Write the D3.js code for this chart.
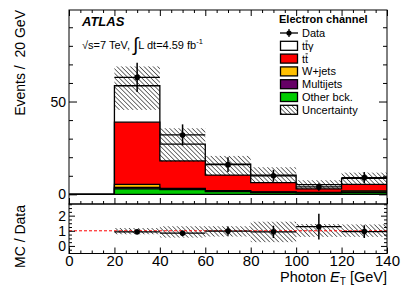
<!DOCTYPE html>
<html>
<head>
<meta charset="utf-8">
<script src="https://cdn.jsdelivr.net/npm/d3@7"></script>
<style>
  body { margin: 0; background: #fff; }
  svg text { font-family: "Liberation Sans", Arial, Helvetica, sans-serif; fill: #000; }
</style>
</head>
<body>
<div id="chart"></div>
<script>
// histogram bins (GeV), 20 GeV wide
const binLow = [20, 40, 60, 80, 100, 120];
const binWidth = 20;

// data
const dataVals = [63, 32, 16, 10, 4, 9];
const dataErr = [7.9, 5.7, 4.0, 3.2, 2.0, 3.0];

// stacked MC (bottom -> top)
const otherBkg = [3.0, 2.5, 1.5, 1.0, 0.8, 1.0];
const multijets = [0.8, 0.3, 0.2, 0.1, 0.1, 0.3];
const wjets = [1.6, 0.4, 0.3, 0.2, 0.1, 0.6];
const ttbar = [33.5, 14.8, 8.4, 5.0, 2.0, 3.5];
const ttgamma = [19.6, 9.0, 5.8, 4.1, 2.2, 3.2];

// uncertainty band on total MC
const uncLow = [45.5, 17.6, 10.4, 6.3, 2.9, 5.4];
const uncHigh = [68.9, 35.6, 20.7, 14.6, 7.6, 11.7];

// ratio pad
const ratioVals = [0.93, 0.84, 0.98, 0.93, 1.27, 0.95];
const ratioErr = [0.13, 0.18, 0.3, 0.4, 0.85, 0.42];
const ratioBandLow = [0.77, 0.55, 0.62, 0.25, 0.6, 0.6];
const ratioBandHigh = [1.18, 1.3, 1.3, 1.6, 1.45, 1.42];

// legend entries: [label parts, bar over which part]
const legendLabels = [["Data"], ["t", "t", "\u03b3"], ["t", "t"], ["W+jets"], ["Multijets"], ["Other bck."], ["Uncertainty"]];
const legendColors = [null, "#ffffff", "#ff0000", "#ffc000", "#660066", "#00cc00", "hatch"];

function createChart() {
    const W = 407, H = 292;
    const left = 69, right = 387;
    const mainTop = 10, mainBottom = 204, ratioBottom = 253.5;

    const svg = d3.select("#chart")
        .append("svg")
        .attr("width", W)
        .attr("height", H);

    // hatch pattern (\\\\ style)
    const defs = svg.append("defs");
    defs.append("pattern")
        .attr("id", "hatch")
        .attr("patternUnits", "userSpaceOnUse")
        .attr("width", 3.2)
        .attr("height", 3.2)
        .attr("patternTransform", "rotate(-45)")
        .append("line")
        .attr("x1", 0).attr("y1", 0)
        .attr("x2", 0).attr("y2", 3.2)
        .attr("stroke", "#000")
        .attr("stroke-width", 1.1);
    defs.append("clipPath").attr("id", "clipMain")
        .append("rect").attr("x", left).attr("y", mainTop)
        .attr("width", right - left).attr("height", mainBottom - mainTop);
    defs.append("clipPath").attr("id", "clipRatio")
        .append("rect").attr("x", left).attr("y", mainBottom)
        .attr("width", right - left).attr("height", ratioBottom - mainBottom);

    // scales
    const x = d3.scaleLinear().domain([0, 140]).range([left, right]);
    const y = d3.scaleLinear().domain([-5.2, 99.3]).range([mainBottom, mainTop]);
    const yr = d3.scaleLinear().domain([-0.5, 2.77]).range([ratioBottom, mainBottom]);

    // stack
    const keys = ["other", "multi", "wjets", "tt", "ttg"];
    const colors = { other: "#00cc00", multi: "#660066", wjets: "#ffc000", tt: "#ff0000", ttg: "#ffffff" };
    const table = binLow.map((b, i) => ({
        x: b, other: otherBkg[i], multi: multijets[i], wjets: wjets[i], tt: ttbar[i], ttg: ttgamma[i]
    }));
    const series = d3.stack().keys(keys)(table);

    const main = svg.append("g").attr("clip-path", "url(#clipMain)");

    const area = d3.area()
        .curve(d3.curveStepAfter)
        .x(d => x(d.x))
        .y0(y(0))
        .y1(d => y(d.v));

    // draw top layer first, then the ones below
    series.slice().reverse().forEach(s => {
        const pts = [{ x: 0, v: 0 }].concat(s.map((d, i) => ({ x: binLow[i], v: d[1] })));
        pts.push({ x: binLow[binLow.length - 1] + binWidth, v: s[s.length - 1][1] });
        main.append("path")
            .attr("d", area(pts))
            .attr("fill", colors[s.key])
            .attr("stroke", "#000")
            .attr("stroke-width", 1.3);
    });

    // uncertainty band
    main.selectAll("rect.unc")
        .data(binLow)
        .join("rect")
        .attr("class", "unc")
        .attr("x", d => x(d))
        .attr("width", d => x(d + binWidth) - x(d))
        .attr("y", (d, i) => y(uncHigh[i]))
        .attr("height", (d, i) => y(uncLow[i]) - y(uncHigh[i]))
        .attr("fill", "url(#hatch)");

    // data points
    const pts = main.append("g");
    binLow.forEach((b, i) => {
        const cx = x(b + binWidth / 2);
        pts.append("line")
            .attr("x1", x(b)).attr("x2", x(b + binWidth))
            .attr("y1", y(dataVals[i])).attr("y2", y(dataVals[i]))
            .attr("stroke", "#000").attr("stroke-width", 1.3);
        pts.append("line")
            .attr("x1", cx).attr("x2", cx)
            .attr("y1", y(dataVals[i] + dataErr[i])).attr("y2", y(dataVals[i] - dataErr[i]))
            .attr("stroke", "#000").attr("stroke-width", 1.5);
        pts.append("circle")
            .attr("cx", cx).attr("cy", y(dataVals[i]))
            .attr("r", 2.8).attr("fill", "#000");
    });

    // ratio pad
    const ratio = svg.append("g").attr("clip-path", "url(#clipRatio)");
    ratio.selectAll("rect.rband")
        .data(binLow)
        .join("rect")
        .attr("class", "rband")
        .attr("x", d => x(d))
        .attr("width", d => x(d + binWidth) - x(d))
        .attr("y", (d, i) => yr(ratioBandHigh[i]))
        .attr("height", (d, i) => yr(ratioBandLow[i]) - yr(ratioBandHigh[i]))
        .attr("fill", "url(#hatch)");

    ratio.append("line")
        .attr("x1", x(0)).attr("x2", x(140))
        .attr("y1", yr(1)).attr("y2", yr(1))
        .attr("stroke", "#ff0000")
        .attr("stroke-width", 1)
        .attr("stroke-dasharray", "3,2");

    binLow.forEach((b, i) => {
        const cx = x(b + binWidth / 2);
        ratio.append("line")
            .attr("x1", x(b)).attr("x2", x(b + binWidth))
            .attr("y1", yr(ratioVals[i])).attr("y2", yr(ratioVals[i]))
            .attr("stroke", "#000").attr("stroke-width", 1.3);
        ratio.append("line")
            .attr("x1", cx).attr("x2", cx)
            .attr("y1", yr(ratioVals[i] + ratioErr[i])).attr("y2", yr(ratioVals[i] - ratioErr[i]))
            .attr("stroke", "#000").attr("stroke-width", 1.5);
        ratio.append("circle")
            .attr("cx", cx).attr("cy", yr(ratioVals[i]))
            .attr("r", 2.8).attr("fill", "#000");
    });

    // frames
    svg.append("rect")
        .attr("x", left).attr("y", mainTop)
        .attr("width", right - left).attr("height", mainBottom - mainTop)
        .attr("fill", "none").attr("stroke", "#000").attr("stroke-width", 1);
    svg.append("rect")
        .attr("x", left).attr("y", mainBottom)
        .attr("width", right - left).attr("height", ratioBottom - mainBottom)
        .attr("fill", "none").attr("stroke", "#000").attr("stroke-width", 1);

    // ticks
    const xMajor = d3.range(0, 141, 20);
    const xMinor = d3.range(0, 141, 5).filter(v => v % 20 !== 0);
    function tickGroup(axis, transform) {
        const g = svg.append("g").attr("transform", transform).call(axis);
        g.select(".domain").remove();
        g.selectAll("line").attr("stroke", "#000");
        return g;
    }
    // main pad x (bottom + top), no labels
    tickGroup(d3.axisBottom(x).tickValues(xMajor).tickSize(-6).tickFormat(""), `translate(0,${mainBottom})`);
    tickGroup(d3.axisBottom(x).tickValues(xMinor).tickSize(-3).tickFormat(""), `translate(0,${mainBottom})`);
    tickGroup(d3.axisTop(x).tickValues(xMajor).tickSize(-6).tickFormat(""), `translate(0,${mainTop})`);
    tickGroup(d3.axisTop(x).tickValues(xMinor).tickSize(-3).tickFormat(""), `translate(0,${mainTop})`);

    // main pad y
    const gy = tickGroup(d3.axisLeft(y).tickValues([0, 50]).tickSize(-8).tickPadding(3), `translate(${left},0)`);
    gy.selectAll("text").attr("font-size", 14).attr("font-family", null).attr("x", -3);
    tickGroup(d3.axisLeft(y).tickValues(d3.range(10, 100, 10).filter(v => v !== 50)).tickSize(-4).tickFormat(""), `translate(${left},0)`);
    tickGroup(d3.axisRight(y).tickValues([0, 50]).tickSize(-8).tickFormat(""), `translate(${right},0)`);
    tickGroup(d3.axisRight(y).tickValues(d3.range(10, 100, 10).filter(v => v !== 50)).tickSize(-4).tickFormat(""), `translate(${right},0)`);

    // ratio pad x with labels
    const gx = tickGroup(d3.axisBottom(x).tickValues(xMajor).tickSize(-6).tickPadding(1.5), `translate(0,${ratioBottom})`);
    gx.selectAll("text").attr("font-size", 15).attr("font-family", null);
    tickGroup(d3.axisBottom(x).tickValues(xMinor).tickSize(-3).tickFormat(""), `translate(0,${ratioBottom})`);

    // ratio pad y
    const ryMinor = d3.range(-0.25, 2.76, 0.25).filter(v => Math.abs(v - Math.round(v)) > 0.01);
    const gry = tickGroup(d3.axisLeft(yr).tickValues([0, 1, 2]).tickSize(-6).tickFormat(d3.format("d")), `translate(${left},0)`);
    gry.selectAll("text").attr("font-size", 14).attr("font-family", null).attr("x", -3);
    tickGroup(d3.axisLeft(yr).tickValues(ryMinor).tickSize(-3).tickFormat(""), `translate(${left},0)`);
    tickGroup(d3.axisRight(yr).tickValues([0, 1, 2]).tickSize(-6).tickFormat(""), `translate(${right},0)`);
    tickGroup(d3.axisRight(yr).tickValues(ryMinor).tickSize(-3).tickFormat(""), `translate(${right},0)`);

    // axis titles
    svg.append("text")
        .attr("transform", `translate(25,${mainTop}) rotate(-90)`)
        .attr("text-anchor", "end")
        .attr("font-size", 14)
        .text("Events /\u00a0 20 GeV");
    svg.append("text")
        .attr("transform", `translate(25,${mainBottom + 1}) rotate(-90)`)
        .attr("text-anchor", "end")
        .attr("font-size", 14)
        .text("MC / Data");
    const xt = svg.append("text")
        .attr("x", right)
        .attr("y", 282)
        .attr("text-anchor", "end")
        .attr("font-size", 14.5);
    xt.append("tspan").text("Photon ");
    xt.append("tspan").attr("font-style", "italic").text("E");
    xt.append("tspan").attr("font-size", 10).attr("dy", 3).text("T");
    xt.append("tspan").attr("dy", -3).text(" [GeV]");

    // ATLAS label
    svg.append("text")
        .attr("x", 82).attr("y", 26)
        .attr("font-size", 13)
        .attr("font-weight", "bold")
        .attr("font-style", "italic")
        .text("ATLAS");
    const lumi = svg.append("text")
        .attr("x", 82).attr("y", 49)
        .attr("font-size", 11);
    lumi.append("tspan").text("\u221as=7 TeV, ");
    lumi.append("tspan").attr("font-size", 19).attr("dy", 2).text("\u222b");
    lumi.append("tspan").attr("dy", -2).text("L dt=4.59 fb");
    lumi.append("tspan").attr("font-size", 7.5).attr("dy", -5).text("-1");

    // legend
    const leg = svg.append("g");
    leg.append("text")
        .attr("x", 279).attr("y", 23)
        .attr("font-size", 11)
        .attr("font-weight", "bold")
        .text("Electron channel");
    legendLabels.forEach((parts, i) => {
        const cy = 33 + i * 12.8;
        if (i === 0) {
            leg.append("line").attr("x1", 280).attr("x2", 298).attr("y1", cy).attr("y2", cy)
                .attr("stroke", "#000").attr("stroke-width", 1.3);
            leg.append("line").attr("x1", 289).attr("x2", 289).attr("y1", cy - 4).attr("y2", cy + 4)
                .attr("stroke", "#000").attr("stroke-width", 1.3);
            leg.append("circle").attr("cx", 289).attr("cy", cy).attr("r", 2.6).attr("fill", "#000");
        } else {
            leg.append("rect")
                .attr("x", 280.5).attr("y", cy - 4.5)
                .attr("width", 17).attr("height", 9)
                .attr("fill", legendColors[i] === "hatch" ? "url(#hatch)" : legendColors[i])
                .attr("stroke", "#000").attr("stroke-width", 1.3);
        }
        const t = leg.append("text")
            .attr("x", 302).attr("y", cy + 4)
            .attr("font-size", 11)
            .text(parts.join(""));
        // anti-top bar over the second "t"
        if (parts.length > 1) {
            const ext = t.node().getExtentOfChar(1);
            leg.append("line")
                .attr("x1", ext.x + 0.5).attr("x2", ext.x + ext.width - 0.3)
                .attr("y1", ext.y + 1.2).attr("y2", ext.y + 1.2)
                .attr("stroke", "#000").attr("stroke-width", 0.8);
        }
    });
}

createChart();
</script>
</body>
</html>
